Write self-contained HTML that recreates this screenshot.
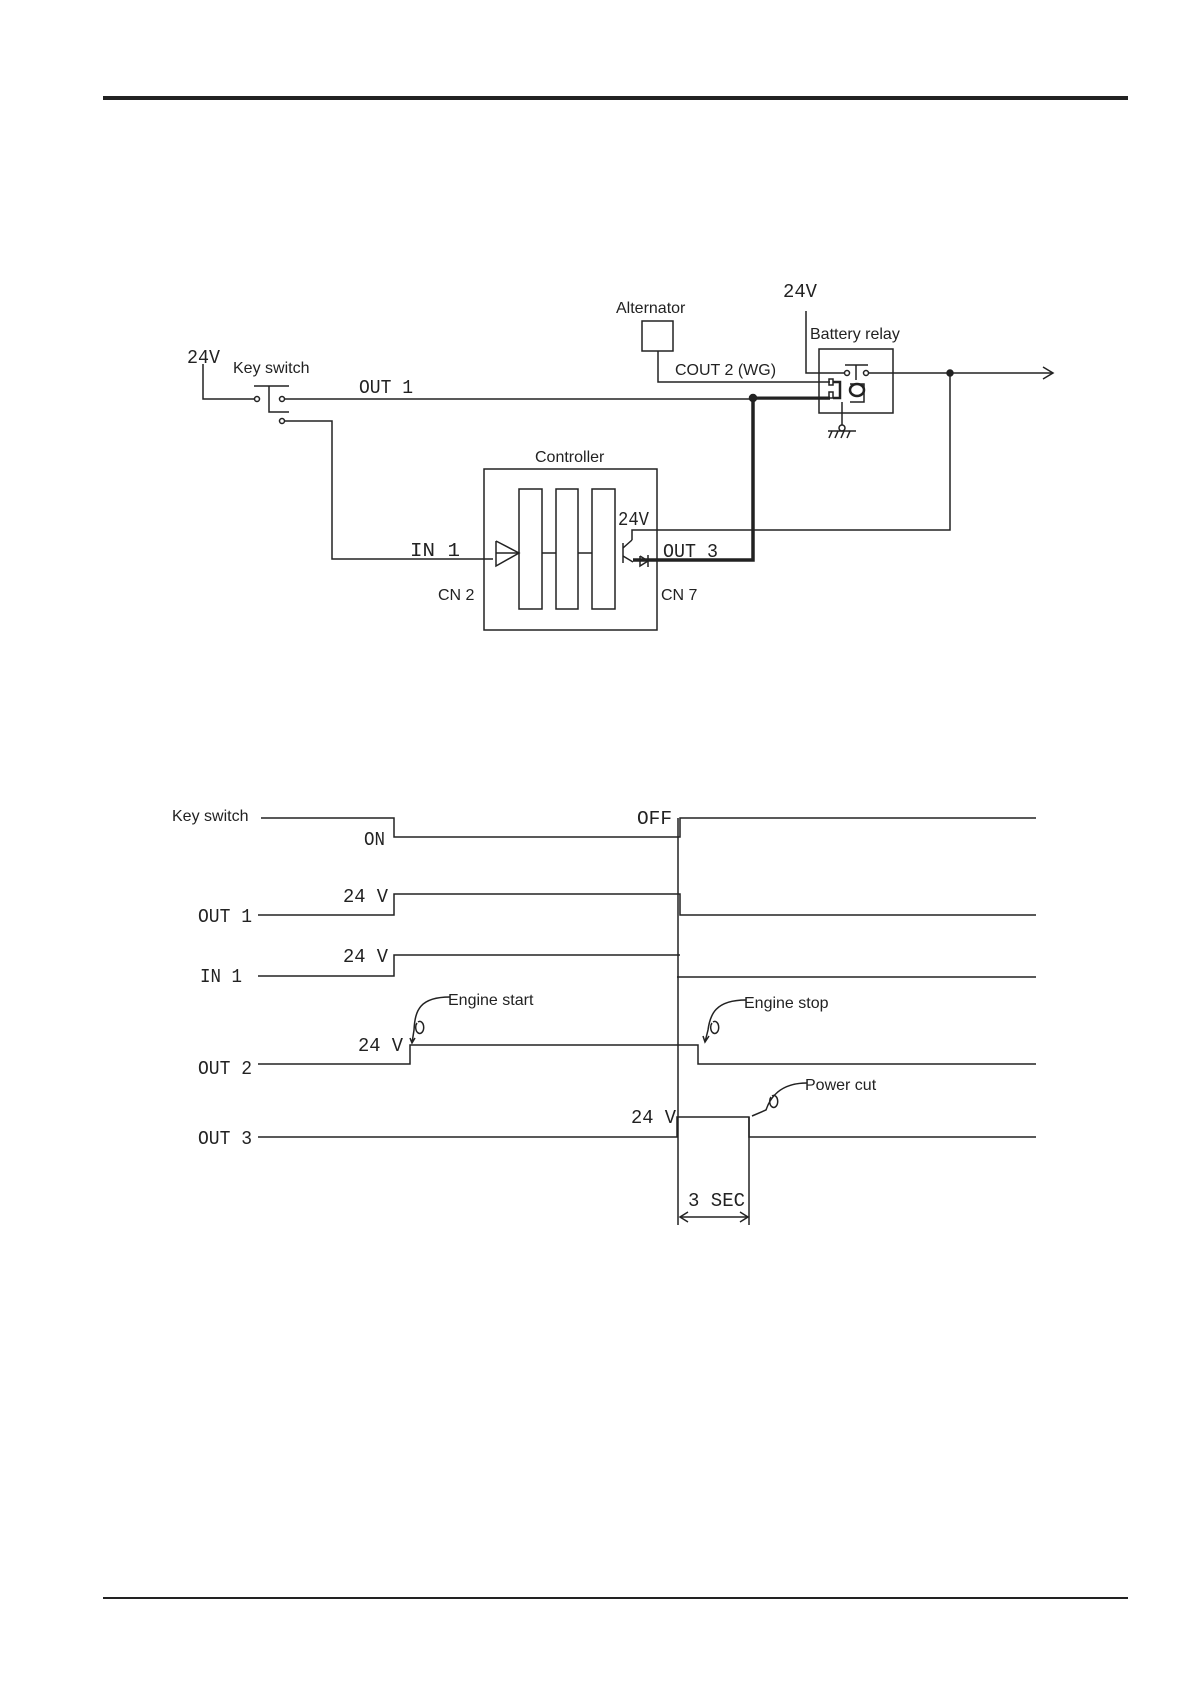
<!DOCTYPE html>
<html><head><meta charset="utf-8"><style>
html,body{margin:0;padding:0;background:#fff;}
svg{display:block;}
.s{font-family:"Liberation Sans",sans-serif;font-size:16px;fill:#222;}
.m{font-family:"Liberation Mono",monospace;font-size:19px;fill:#222;}
</style></head><body>
<svg width="1190" height="1684" viewBox="0 0 1190 1684" xmlns="http://www.w3.org/2000/svg">
<g stroke="#222" fill="none" stroke-width="1.5">
<rect x="103" y="96" width="1025" height="4" fill="#222" stroke="none"/>
<line x1="103" y1="1598" x2="1128" y2="1598" stroke-width="2"/>

<!-- key switch -->
<polyline points="203,364 203,399 254,399"/>
<circle cx="257" cy="399" r="2.5"/>
<circle cx="282" cy="399" r="2.5"/>
<circle cx="282" cy="421" r="2.5"/>
<polyline points="254,386 289,386"/>
<polyline points="269,386 269,412 289,412"/>
<line x1="285" y1="399" x2="830" y2="399"/>
<polyline points="285,421 332,421 332,559 493,559"/>
<!-- controller -->
<rect x="484" y="469" width="173" height="161"/>
<rect x="519" y="489" width="23" height="120"/>
<rect x="556" y="489" width="22" height="120"/>
<rect x="592" y="489" width="23" height="120"/>
<line x1="542" y1="553" x2="556" y2="553"/>
<line x1="578" y1="553" x2="592" y2="553"/>
<polyline points="496,541 519,553 496,566 496,541"/>
<line x1="496" y1="553" x2="519" y2="553"/>
<!-- transistor -->
<line x1="623" y1="543" x2="623" y2="563"/>
<polyline points="632,540 632,530 950,530 950,375"/>
<line x1="623" y1="548" x2="632" y2="540"/>
<line x1="623" y1="556" x2="633" y2="562"/>
<polyline points="640,556 648,561 640,566 640,556"/>
<line x1="648" y1="555" x2="648" y2="567"/>
<polyline points="753,399 753,560 633,560" stroke-width="3.5"/>
<line x1="753" y1="398" x2="830" y2="398" stroke-width="3"/>
<circle cx="753" cy="398" r="3.5" fill="#222"/>
<!-- alternator -->
<rect x="642" y="321" width="31" height="30"/>
<polyline points="658,351 658,382 830,382"/>
<!-- battery relay -->
<polyline points="806,311 806,373 845,373"/>
<rect x="819" y="349" width="74" height="64"/>
<circle cx="847" cy="373" r="2.5"/>
<circle cx="866" cy="373" r="2.5"/>
<line x1="845" y1="365" x2="868" y2="365"/>
<line x1="856" y1="365" x2="856" y2="380"/>
<line x1="869" y1="373" x2="1053" y2="373"/>
<polyline points="1043,367 1053,373 1043,379"/>
<circle cx="950" cy="373" r="3" fill="#222"/>
<rect x="829" y="379" width="4" height="6"/>
<rect x="829" y="392" width="4" height="6"/>
<polyline points="833,382 840,382 840,398 833,398" stroke-width="2.5"/>
<ellipse cx="857" cy="390" rx="7" ry="6" stroke-width="2.5"/>
<polyline points="850,384 864,384 864,402 850,402"/>
<polyline points="842,402 842,425"/>
<circle cx="842" cy="428" r="3"/>
<line x1="828" y1="431" x2="856" y2="431"/>
<line x1="832" y1="431" x2="829" y2="438"/><line x1="838" y1="431" x2="835" y2="438"/><line x1="844" y1="431" x2="841" y2="438"/><line x1="850" y1="431" x2="847" y2="438"/>

<!-- timing -->
<polyline points="261,818 394,818 394,837 680,837 680,818 1036,818"/>
<polyline points="258,915 394,915 394,894 680,894 680,915 1036,915"/>
<polyline points="258,976 394,976 394,955 680,955"/>
<polyline points="677,977 1036,977"/>
<polyline points="258,1064 410,1064 410,1045 698,1045 698,1064 1036,1064"/>
<polyline points="258,1137 677,1137 677,1117 749,1117 749,1137 1036,1137"/>
<line x1="678" y1="818" x2="678" y2="1225"/>
<line x1="749" y1="1117" x2="749" y2="1225"/>
<line x1="680" y1="1217" x2="748" y2="1217"/>
<polyline points="688,1212 680,1217 688,1222"/><polyline points="740,1212 748,1217 740,1222"/>
<!-- leaders -->
<path d="M450,997 C420,997 415,1010 414,1030 L412,1043 M410,1038 L412,1043 L415,1038 M417,1023 a4,6 0 1,0 1,-1"/>
<path d="M746,1000 C715,1000 710,1015 708,1030 L705,1042 M703,1036 L705,1042 L709,1036 M712,1023 a4,6 0 1,0 1,-1"/>
<path d="M807,1083 C780,1083 770,1098 766,1110 L752,1116 M771,1097 a4,6 0 1,0 1,-1"/>
</g>
<text class="m" x="187" y="363" textLength="33" lengthAdjust="spacingAndGlyphs">24V</text>
<text class="s" x="233" y="373">Key switch</text>
<text class="m" x="359" y="393" textLength="54" lengthAdjust="spacingAndGlyphs">OUT 1</text>
<text class="s" x="535" y="462">Controller</text>
<text class="m" x="410" y="556" textLength="50" lengthAdjust="spacingAndGlyphs">IN 1</text>
<text class="s" x="438" y="600">CN 2</text>
<text class="s" x="661" y="600">CN 7</text>
<text class="m" x="618" y="525" textLength="31" lengthAdjust="spacingAndGlyphs">24V</text>
<text class="m" x="663" y="557" textLength="55" lengthAdjust="spacingAndGlyphs">OUT 3</text>
<text class="s" x="616" y="313">Alternator</text>
<text class="s" x="675" y="375">COUT 2 (WG)</text>
<text class="m" x="783" y="297" textLength="34" lengthAdjust="spacingAndGlyphs">24V</text>
<text class="s" x="810" y="339">Battery relay</text>

<text class="s" x="172" y="821">Key switch</text>
<text class="m" x="364" y="845" textLength="21" lengthAdjust="spacingAndGlyphs">ON</text>
<text class="m" x="637" y="824" textLength="35" lengthAdjust="spacingAndGlyphs">OFF</text>
<text class="m" x="198" y="922" textLength="54" lengthAdjust="spacingAndGlyphs">OUT 1</text>
<text class="m" x="343" y="902" textLength="45" lengthAdjust="spacingAndGlyphs">24 V</text>
<text class="m" x="200" y="982" textLength="42" lengthAdjust="spacingAndGlyphs">IN 1</text>
<text class="m" x="343" y="962" textLength="45" lengthAdjust="spacingAndGlyphs">24 V</text>
<text class="m" x="198" y="1074" textLength="54" lengthAdjust="spacingAndGlyphs">OUT 2</text>
<text class="m" x="358" y="1051" textLength="45" lengthAdjust="spacingAndGlyphs">24 V</text>
<text class="s" x="448" y="1005">Engine start</text>
<text class="s" x="744" y="1008">Engine stop</text>
<text class="m" x="198" y="1144" textLength="54" lengthAdjust="spacingAndGlyphs">OUT 3</text>
<text class="m" x="631" y="1123" textLength="45" lengthAdjust="spacingAndGlyphs">24 V</text>
<text class="s" x="805" y="1090">Power cut</text>
<text class="m" x="688" y="1206" textLength="57" lengthAdjust="spacingAndGlyphs">3 SEC</text>
</svg>
</body></html>
